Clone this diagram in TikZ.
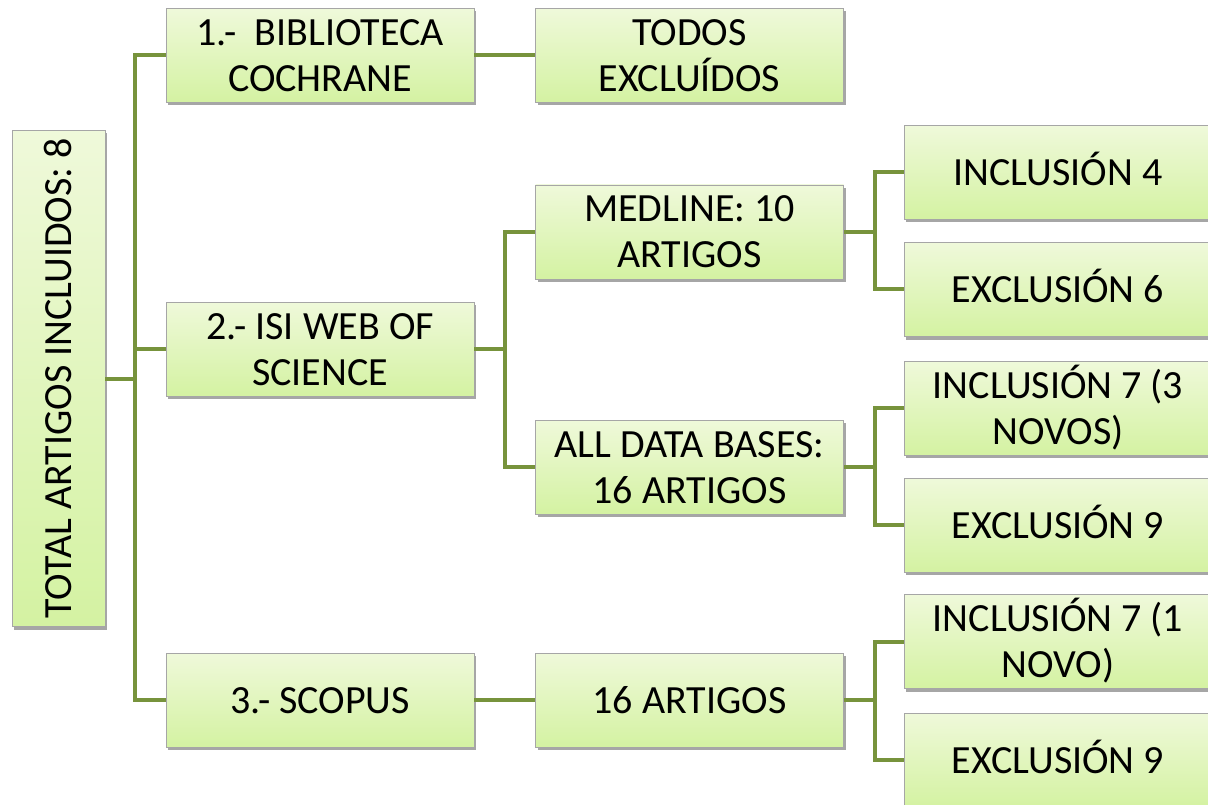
\documentclass[tikz,border=0pt]{standalone}
\usepackage{fontspec}
\setmainfont{Carlito}
\usetikzlibrary{shadows}
\definecolor{linkColor}{HTML}{77933C}
\definecolor{boxTop}{HTML}{EFF9DA}
\definecolor{boxBottom}{HTML}{D4F2A2}
\definecolor{boxLine}{HTML}{A6A6A6}

\begin{document}
\begin{tikzpicture}[x=1pt, y=-1pt,
	box/.style={draw=boxLine, line width=0.8pt, top color=boxTop, bottom color=boxBottom,
		minimum width=308pt, minimum height=94pt, align=center, inner sep=2pt,
		text height=32pt, text depth=6pt,
		font=\fontsize{40}{46}\selectfont,
		drop shadow={shadow xshift=2pt, shadow yshift=-3pt, opacity=0.35, fill=black}},
	twolines/.style={box, text height=72pt, text depth=0pt},
	link/.style={linkColor, line width=4pt}]
		
		% --- 0. Page frame ---
		\useasboundingbox (0,0) rectangle (1208,805);
		
		% --- 1. Root (vertical) ---
		\node[box, rotate=90, minimum width=496pt, minimum height=93pt] (root) at (58.5,378.5) {TOTAL ARTIGOS INCLUIDOS: 8};
		
		% --- 2. Sources ---
		\node[twolines] (bib) at (320,55.5) {1.-~ BIBLIOTECA\\COCHRANE};
		\node[twolines] (isi) at (320,349) {2.- ISI WEB OF\\SCIENCE};
		\node[box] (scop) at (320,700) {3.- SCOPUS};
		
		% --- 3. Searches ---
		\node[twolines] (todos) at (689.5,55.5) {TODOS\\EXCLUÍDOS};
		\node[twolines] (med) at (689.5,232) {MEDLINE: 10\\ARTIGOS};
		\node[twolines] (alldb) at (689.5,467) {ALL DATA BASES:\\16 ARTIGOS};
		\node[box] (art) at (689.5,700) {16 ARTIGOS};
		
		% --- 4. Results ---
		\node[box] (inc4) at (1058,172.5) {INCLUSIÓN 4};
		\node[box] (exc6) at (1058,289.5) {EXCLUSIÓN 6};
		\node[twolines] (inc7a) at (1058,408) {INCLUSIÓN 7 (3\\NOVOS)};
		\node[box] (exc9a) at (1058,525) {EXCLUSIÓN 9};
		\node[twolines] (inc7b) at (1058,641.5) {INCLUSIÓN 7 (1\\NOVO)};
		\node[box] (exc9b) at (1058,760) {EXCLUSIÓN 9};
		
		% --- 5. Connectors ---
		\draw[link] (root.south) -- ++(30,0) coordinate (fk0);
		\foreach \n in {bib,isi,scop} {
			\draw[link] (fk0) |- (\n.west);
		}
		\draw[link] (bib.east) -- (todos.west);
		\draw[link] (scop.east) -- (art.west);
		\draw[link] (isi.east) -- ++(31,0) coordinate (fk1);
		\foreach \n in {med,alldb} {
			\draw[link] (fk1) |- (\n.west);
		}
		\foreach \src/\a/\b in {med/inc4/exc6, alldb/inc7a/exc9a, art/inc7b/exc9b} {
			\draw[link] (\src.east) -- ++(31,0) coordinate (fk) |- (\a.west);
			\draw[link] (fk) |- (\b.west);
		}
		
	\end{tikzpicture}
\end{document}
